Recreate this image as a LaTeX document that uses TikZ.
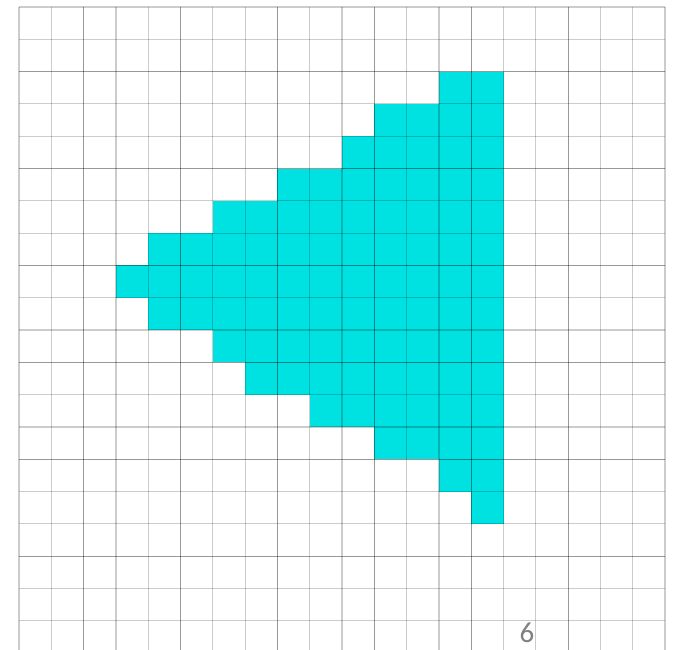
\documentclass[tikz,border=0pt]{standalone}
\usepackage{fontspec}
\newfontfamily\labelfont{Carlito}
\definecolor{cyanfill}{RGB}{0,226,226}
\definecolor{labelgray}{RGB}{128,128,128}
\tikzset{
  cellfill/.style={fill=cyanfill},
  gridline/.style={draw=black, draw opacity=0.2, line width=1.2pt},
  gridbold/.style={draw=black, draw opacity=0.25, line width=1.2pt},
  numlabel/.style={font=\labelfont\fontsize{29}{29}\selectfont, text=labelgray, inner sep=0pt}
}
\begin{document}
\begin{tikzpicture}[x=1pt,y=-1pt]
\useasboundingbox (0,0) rectangle (677,650);
\def\cw{32.3}
% filled cells: row / first column (all rows end at column 14)
\foreach \r/\s in {2/13,3/11,4/10,5/8,6/6,7/4,8/3,9/4,10/6,11/7,12/9,13/11,14/13,15/14}{
  \fill[cellfill] ({19+\s*\cw},{7+\r*\cw}) rectangle ({19+15*\cw},{7+(\r+1)*\cw});
}
% light grid lines
\foreach \i in {0,...,20}{
  \draw[gridline] ({19+\i*\cw},7) -- ({19+\i*\cw},650);
}
\foreach \j in {0,...,19}{
  \draw[gridline] (19,{7+\j*\cw}) -- (665,{7+\j*\cw});
}
% darker grid lines every third (drawn again on top)
\foreach \i in {2,5,8,11,14,17}{
  \draw[gridbold] ({19+\i*\cw},7) -- ({19+\i*\cw},650);
  \draw[gridbold] (19,{7+\i*\cw}) -- (665,{7+\i*\cw});
}
\node[numlabel] (six) at (527,633) {6};
\end{tikzpicture}
\end{document}
